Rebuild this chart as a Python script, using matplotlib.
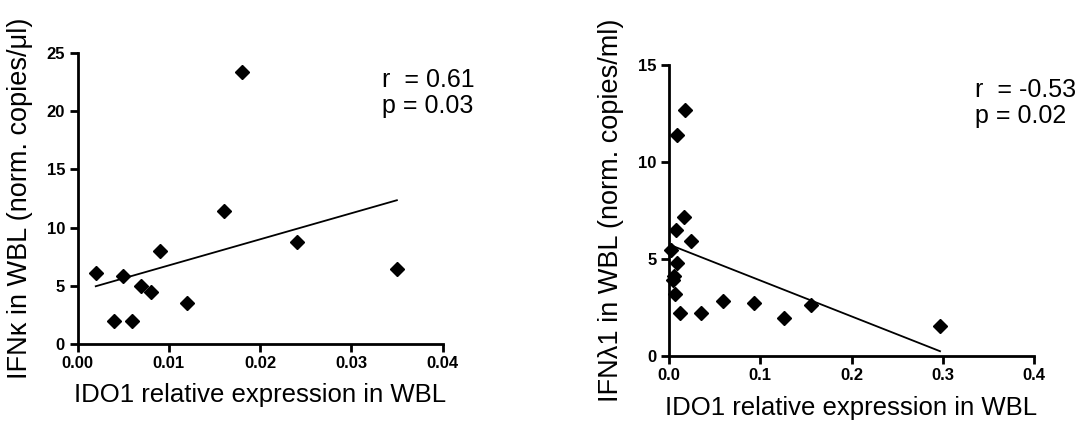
import numpy as np
import matplotlib
matplotlib.use("Agg")
import matplotlib.pyplot as plt

plt.rcParams["font.family"] = ["Liberation Sans", "DejaVu Sans"]

# Painel esquerdo: IFNk vs IDO1
ido1_left = [0.002, 0.004, 0.005, 0.006, 0.007, 0.008, 0.009, 0.012,
             0.016, 0.018, 0.024, 0.035]
ifnk = [6.1, 1.95, 5.85, 1.95, 5.0, 4.5, 7.95, 3.5, 11.45, 23.35, 8.8, 6.45]
left_xticks = [0.00, 0.01, 0.02, 0.03, 0.04]
left_yticks = [0, 5, 10, 15, 20, 25]
left_stats = "r  = 0.61\np = 0.03"

# Painel direito: IFNλ1 vs IDO1
ido1_right = [0.018, 0.009, 0.016, 0.0076, 0.024, 0.002, 0.0084, 0.006,
              0.004, 0.0068, 0.012, 0.0346, 0.0596, 0.0927, 0.1257,
              0.1557, 0.297]
ifnl1 = [12.7, 11.4, 7.15, 6.5, 5.95, 5.44, 4.8, 4.12, 3.92, 3.2, 2.24,
         2.22, 2.86, 2.74, 1.97, 2.65, 1.55]
right_xticks = [0.0, 0.1, 0.2, 0.3, 0.4]
right_yticks = [0, 5, 10, 15]
right_stats = "r  = -0.53\np = 0.02"

xlabel = "IDO1 relative expression in WBL"

W, H = 1084, 422


def style_axes(ax, xticks, yticks, xfmt, yfmt):
    for side in ("top", "right"):
        ax.spines[side].set_visible(False)
    for side in ("left", "bottom"):
        ax.spines[side].set_linewidth(2.0)
    ax.set_xticks(xticks)
    ax.set_yticks(yticks)
    ax.set_xticklabels([xfmt.format(v) for v in xticks])
    ax.set_yticklabels([yfmt.format(v) for v in yticks])
    ax.set_xlim(xticks[0], xticks[-1])
    ax.set_ylim(yticks[0], yticks[-1])
    ax.tick_params(direction="out", length=6, width=2.0, labelsize=12,
                   pad=3)
    for lab in ax.get_xticklabels() + ax.get_yticklabels():
        lab.set_fontweight("bold")


def scatter_fit(ax, x, y):
    x = np.asarray(x)
    y = np.asarray(y)
    ax.plot(x, y, "D", color="black", markersize=6.8, clip_on=False,
            zorder=5)
    # reta de regressão linear (mínimos quadrados) sobre os dados
    slope, intercept = np.polyfit(x, y, 1)
    xs = np.array([x.min(), x.max()])
    ax.plot(xs, slope * xs + intercept, color="black", linewidth=1.3,
            zorder=4)


fig = plt.figure(figsize=(W / 100, H / 100), dpi=100)

ax1 = fig.add_axes([77.5 / W, 78 / H, 365 / W, 291 / H])
scatter_fit(ax1, ido1_left, ifnk)
style_axes(ax1, left_xticks, left_yticks, "{:.2f}", "{:d}")
ax1.set_xlabel(xlabel, fontsize=18.5, labelpad=8)
ax1.set_ylabel("IFNκ in WBL (norm. copies/μl)", fontsize=19.5, labelpad=10)

ax2 = fig.add_axes([669 / W, 66 / H, 365 / W, 291 / H])
scatter_fit(ax2, ido1_right, ifnl1)
style_axes(ax2, right_xticks, right_yticks, "{:.1f}", "{:d}")
ax2.set_xlabel(xlabel, fontsize=18.5, labelpad=9)
ax2.set_ylabel("IFNλ1 in WBL (norm. copies/ml)", fontsize=19.5, labelpad=10)

# textos de correlação (posição em pixels da figura)
fig.text(382 / W, 1 - 68 / H, left_stats, fontsize=18, va="top",
         ha="left", linespacing=1.1)
fig.text(975 / W, 1 - 78 / H, right_stats, fontsize=18, va="top",
         ha="left", linespacing=1.1)

fig.savefig("out.png", dpi=100)
